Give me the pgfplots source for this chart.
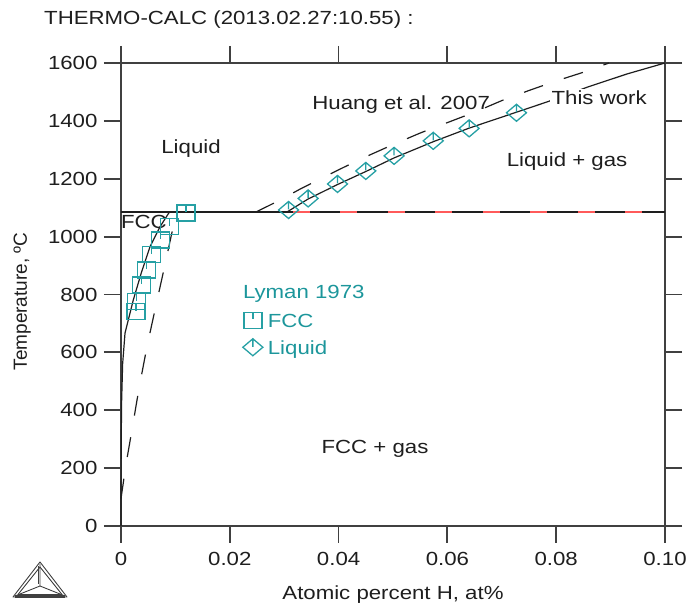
\documentclass[border=0pt]{standalone}
\usepackage{fontspec}
\setmainfont{Liberation Sans}[FakeStretch=1.17]
\newfontfamily\plainsans{Liberation Sans}
\usepackage{pgfplots}
\pgfplotsset{compat=1.18}

\definecolor{axisgray}{RGB}{64,64,64}
\definecolor{inktext}{RGB}{30,30,30}
\definecolor{lymanmark}{RGB}{38,160,164}
\definecolor{lymantext}{RGB}{28,150,155}
\definecolor{redash}{RGB}{255,90,90}

\newcommand{\lbl}{\fontsize{19}{22}\selectfont}

% square with a short tick from the top edge (Lyman FCC data)
\pgfdeclareplotmark{lymansq}{%
  \pgfpathrectangle{\pgfpoint{-9pt}{-8pt}}{\pgfpoint{18pt}{16pt}}%
  \pgfpathmoveto{\pgfpoint{0pt}{8pt}}\pgfpathlineto{\pgfpoint{0pt}{1pt}}%
  \pgfusepathqstroke}
% diamond with a short tick from the top vertex (Lyman liquid data)
\pgfdeclareplotmark{lymandia}{%
  \pgfpathmoveto{\pgfpoint{0pt}{8.5pt}}\pgfpathlineto{\pgfpoint{10pt}{0pt}}%
  \pgfpathlineto{\pgfpoint{0pt}{-8.5pt}}\pgfpathlineto{\pgfpoint{-10pt}{0pt}}%
  \pgfpathclose
  \pgfpathmoveto{\pgfpoint{0pt}{8.5pt}}\pgfpathlineto{\pgfpoint{0pt}{0.5pt}}%
  \pgfusepathqstroke}

\begin{document}
\begin{tikzpicture}[x=1pt,y=1pt]
\useasboundingbox (-121,-78) rectangle (568,526);
\begin{axis}[
  at={(0,0)}, anchor=south west,
  scale only axis, width=544pt, height=463pt,
  xmin=0, xmax=0.1, ymin=0, ymax=1600,
  xtick={0,0.02,0.04,0.06,0.08,0.1},
  xticklabels={0,0.02,0.04,0.06,0.08,0.10},
  ytick={0,200,400,600,800,1000,1200,1400,1600},
  scaled x ticks=false,
  /pgf/number format/assume math mode=true,
  /pgf/number format/1000 sep={},
  tick align=outside,
  major tick length=17pt,
  axis line style={line width=1.8pt, color=axisgray},
  every tick/.style={line width=1.8pt, color=axisgray},
  tick label style={font=\lbl, text=inktext},
  xticklabel style={anchor=north, yshift=-6pt},
  yticklabel style={anchor=east, xshift=-3pt},
  xlabel={Atomic percent H, at\%},
  xlabel style={at={(axis description cs:0.5,-0.1577)}, anchor=base, font=\lbl, text=inktext},
  ylabel={\plainsans Temperature, ºC},
  ylabel style={at={(axis description cs:-0.1728,0.485)}, anchor=base, rotate=0, font=\lbl, text=inktext},
  clip=false,
  legend style={at={(axis cs:0.0224,740)}, anchor=north west, draw=none, fill=none,
    inner sep=0pt, outer sep=0pt, row sep=8pt, font=\lbl, text=lymantext,
    /tikz/every odd column/.append style={column sep=3pt}},
  legend cell align=left,
  legend image code/.code={\draw[mark repeat=2,mark phase=2,#1] plot coordinates {(0pt,1pt)(10pt,1pt)(20pt,1pt)};},
]

% three-phase horizontal at 1085 C
\addplot[line width=1.3pt, color=inktext, forget plot] coordinates {(0,1085) (0.1,1085)};
\addplot[line width=1.3pt, color=redash, dash pattern=on 17pt off 30.5pt, forget plot] coordinates {(0.0316,1085) (0.1,1085)};

% solidus, this work
\addplot[line width=1.2pt, color=inktext, forget plot] coordinates {
  (0,0) (0.00003,250) (0.0001,420) (0.0003,560) (0.00074,667) (0.00226,781)
  (0.0038,879) (0.00533,965) (0.00717,1034) (0.0089,1085)};
% liquidus, this work
\addplot[line width=1.2pt, color=inktext, forget plot] coordinates {
  (0.0305,1085) (0.0344,1130) (0.0398,1180) (0.0450,1225) (0.0502,1272)
  (0.0574,1328) (0.0640,1375) (0.0727,1430) (0.0784,1466) (0.0858,1517)
  (0.0930,1562) (0.1,1600)};

% solidus, Huang et al. 2007
\addplot[line width=1.2pt, color=inktext, dash pattern=on 20pt off 22pt, forget plot] coordinates {
  (0,95) (0.0009,211) (0.0022,352) (0.0033,475) (0.0048,622) (0.0064,760)
  (0.0077,870) (0.0092,1000) (0.0102,1085)};
% liquidus, Huang et al. 2007
\addplot[line width=1.2pt, color=inktext, dash pattern=on 20pt off 22pt, forget plot] coordinates {
  (0.0248,1085) (0.0290,1124) (0.0330,1165) (0.0370,1203) (0.0410,1240)
  (0.0450,1276) (0.0500,1318) (0.0550,1358) (0.0600,1394) (0.0650,1430)
  (0.0700,1470) (0.0750,1505) (0.0800,1538) (0.0850,1568) (0.0897,1600)};

% Lyman 1973
\addplot[only marks, mark=lymansq, color=lymanmark, line width=1.3pt] coordinates {
  (0.00276,741) (0.00288,775) (0.00380,833) (0.00472,885) (0.00564,937)
  (0.0073,988) (0.00888,1034) (0.01195,1082)};
\addlegendentry{FCC}
\addplot[only marks, mark=lymandia, color=lymanmark, line width=1.3pt] coordinates {
  (0.0308,1092) (0.0344,1132) (0.0398,1182) (0.0450,1227) (0.0502,1279)
  (0.0574,1331) (0.0640,1374) (0.0727,1428)};
\addlegendentry{Liquid}

\node[font=\lbl, text=lymantext, anchor=base west, inner sep=0pt] at (axis cs:0.0224,785) {Lyman 1973};

\node[font=\lbl, text=inktext, anchor=base] at (axis cs:0.01287,1286) {Liquid};
\node[font=\lbl, text=inktext, anchor=base] at (axis cs:0.0515,1438) {Huang et al. 2007};
\node[font=\lbl, text=inktext, anchor=base, fill=white, inner sep=2pt] at (axis cs:0.0879,1455) {This work};
\node[font=\lbl, text=inktext, anchor=base] at (axis cs:0.0820,1244) {Liquid + gas};
\node[font=\lbl, text=inktext, anchor=base, inner sep=0pt] at (axis cs:0.0042,1027) {FCC};
\node[font=\lbl, text=inktext, anchor=base] at (axis cs:0.0467,252) {FCC + gas};
\end{axis}

\node[font=\lbl, text=inktext, anchor=base west, inner sep=0pt] at (-77,501) {THERMO-CALC (2013.02.27:10.55) :};

% Thermo-Calc logo
\begin{scope}[color=axisgray, line width=0.9pt, line join=round]
  \draw (-81,-36) -- (-108,-71) -- (-54,-71) -- cycle;
  \draw (-81,-41) -- (-103,-68.5) -- (-59,-68.5) -- cycle;
  \draw (-81,-60) -- (-81,-38) (-81,-60) -- (-106,-70) (-81,-60) -- (-56,-70);
  \draw (-83,-58) -- (-83,-40);
  \draw[line width=2.2pt] (-106,-70.5) -- (-56,-70.5);
\end{scope}
\end{tikzpicture}
\end{document}
